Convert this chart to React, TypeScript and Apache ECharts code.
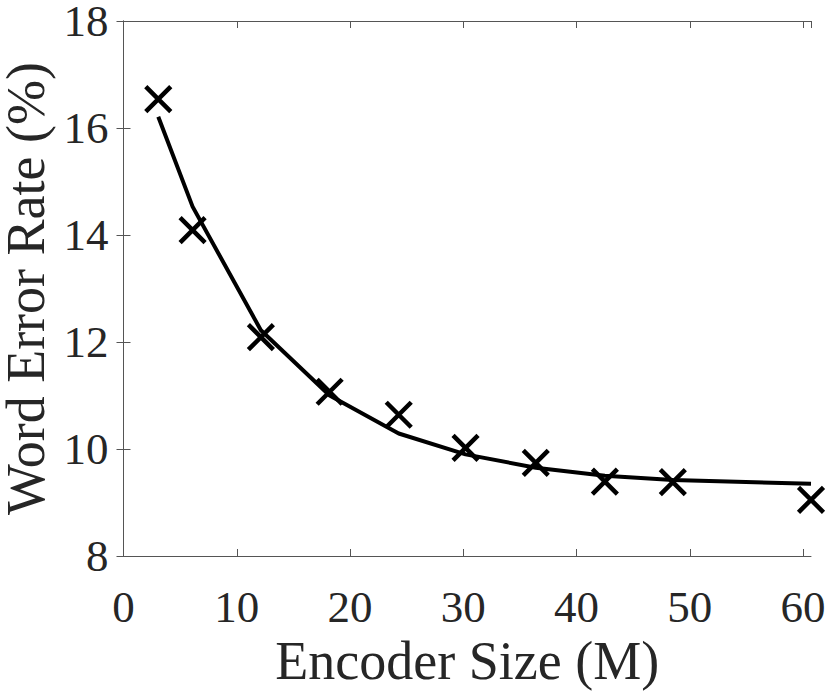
import React, { useEffect, useRef } from "react";
import * as echarts from "echarts";

const encoderSize = [3.07, 6.1, 12.13, 18.2, 24.3, 30.2, 36.4, 42.5, 48.5, 60.7];
const werMeasured = [16.54, 14.09, 12.09, 11.07, 10.64, 10.02, 9.74, 9.39, 9.38, 9.05];
const werFit = [16.21, 14.53, 12.22, 11.0, 10.29, 9.9, 9.65, 9.5, 9.42, 9.35];

const xTitle = "Encoder Size (M)";
const yTitle = "Word Error Rate (%)";

const FONT = "Liberation Serif";
const TEXT = "#262626";
const AXIS = "#555555";

export default function App() {
  const ref = useRef<HTMLDivElement>(null);
  useEffect(() => {
    if (!ref.current) return;
    const chart = echarts.init(ref.current, null, { renderer: "svg" });
    const axisCommon = {
      axisLine: { show: true, lineStyle: { color: AXIS, width: 1 } },
      axisTick: { show: true, inside: true, length: 7, lineStyle: { color: AXIS, width: 1 } },
      splitLine: { show: false },
    };
    chart.setOption({
      animation: false,
      backgroundColor: "#ffffff",
      textStyle: { fontFamily: FONT },
      grid: {
        left: 123.5,
        right: 20,
        top: 21,
        bottom: 137,
        containLabel: false,
        outerBoundsMode: "none",
      },
      xAxis: [
        {
          type: "value",
          min: 0,
          max: 60.7,
          interval: 10,
          position: "bottom",
          ...axisCommon,
          axisLabel: {
            show: true,
            margin: 28,
            fontFamily: FONT,
            fontSize: 45,
            color: TEXT,
            showMaxLabel: false,
          },
          name: xTitle,
          nameLocation: "middle",
          nameGap: 76,
          nameTextStyle: { fontFamily: FONT, fontSize: 54, color: TEXT },
        },
        {
          type: "value",
          min: 0,
          max: 60.7,
          interval: 10,
          position: "top",
          ...axisCommon,
          axisLabel: { show: false },
        },
      ],
      yAxis: [
        {
          type: "value",
          min: 8,
          max: 18,
          interval: 2,
          position: "left",
          ...axisCommon,
          axisLabel: {
            show: true,
            margin: 15,
            fontFamily: FONT,
            fontSize: 45,
            color: TEXT,
          },
          name: yTitle,
          nameLocation: "middle",
          nameGap: 68,
          nameTextStyle: { fontFamily: FONT, fontSize: 54, color: TEXT },
        },
        {
          type: "value",
          min: 8,
          max: 18,
          interval: 2,
          position: "right",
          ...axisCommon,
          axisLabel: { show: false },
        },
      ],
      series: [
        {
          type: "line",
          xAxisIndex: 0,
          yAxisIndex: 0,
          data: encoderSize.map((x, i) => [x, werFit[i]]),
          showSymbol: false,
          symbol: "none",
          lineStyle: { color: "#000000", width: 4 },
          z: 2,
        },
        {
          type: "scatter",
          xAxisIndex: 0,
          yAxisIndex: 0,
          data: encoderSize.map((x, i) => [x, werMeasured[i]]),
          symbol: "path://M0,0L10,10M10,0L0,10",
          symbolSize: 25,
          itemStyle: { color: "none", borderColor: "#000000", borderWidth: 4.5, opacity: 1 },
          z: 3,
          clip: false,
        },
      ],
    });
    return () => chart.dispose();
  }, []);
  return (
    <div
      ref={ref}
      style={{ position: "fixed", left: 0, top: 0, width: 831, height: 693, background: "#fff" }}
    />
  );
}
